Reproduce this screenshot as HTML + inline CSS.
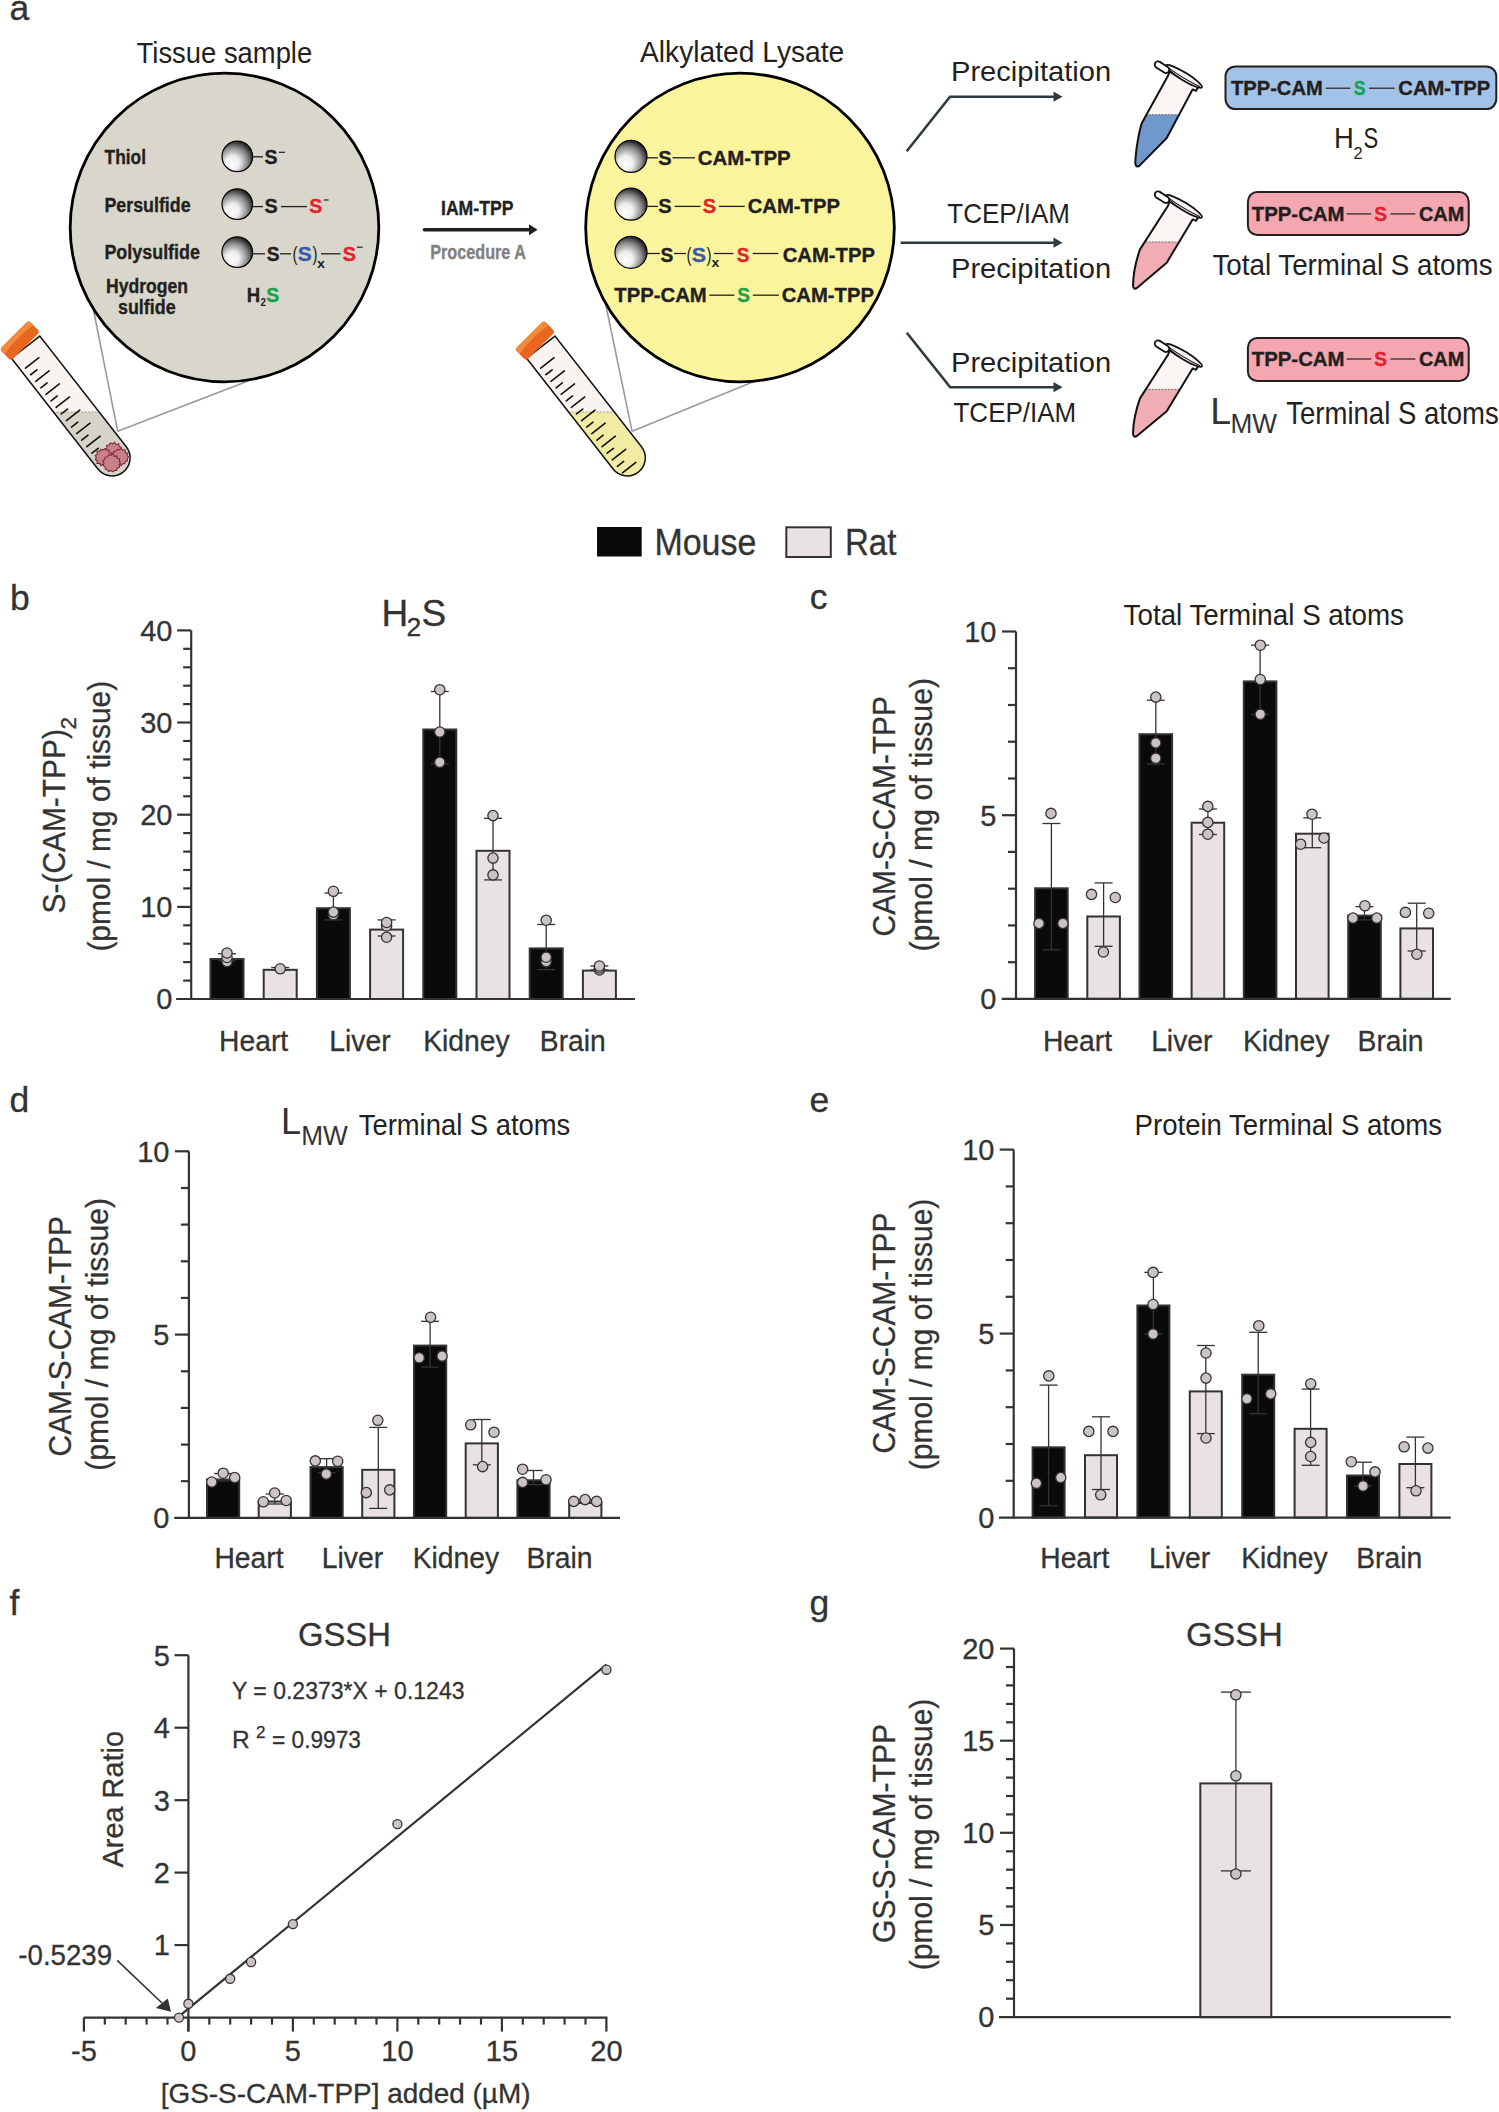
<!DOCTYPE html>
<html><head><meta charset="utf-8"><title>Figure</title>
<style>
html,body{margin:0;padding:0;background:#fff;}
body{width:1499px;height:2112px;overflow:hidden;}
svg{display:block;font-family:"Liberation Sans", sans-serif;}
</style></head><body>
<svg width="1499" height="2112" viewBox="0 0 1499 2112">
<rect x="0" y="0" width="1499" height="2112" fill="#ffffff"/>
<defs>
<radialGradient id="ball" cx="0.4" cy="0.62" r="0.66" fx="0.3" fy="0.78">
<stop offset="0" stop-color="#ffffff"/><stop offset="0.35" stop-color="#eeeeee"/><stop offset="0.7" stop-color="#8a8a8a"/><stop offset="1" stop-color="#111111"/>
</radialGradient>
</defs>
<text x="9.4" y="19.8" font-size="35.5" fill="#333333" stroke="#333333" stroke-width="0.3">a</text>
<text x="136.6" y="62.7" font-size="30.0" fill="#231f20" textLength="175.6" lengthAdjust="spacingAndGlyphs">Tissue sample</text>
<text x="640.0" y="61.7" font-size="30.0" fill="#231f20" textLength="204.3" lengthAdjust="spacingAndGlyphs">Alkylated Lysate</text>
<line x1="89.5" y1="290.0" x2="117.7" y2="431.3" stroke="#9a9a9a" stroke-width="1.60"/>
<line x1="117.7" y1="431.3" x2="250.0" y2="380.2" stroke="#9a9a9a" stroke-width="1.60"/>
<line x1="602.7" y1="290.0" x2="632.1" y2="431.3" stroke="#9a9a9a" stroke-width="1.60"/>
<line x1="632.1" y1="431.3" x2="760.0" y2="379.0" stroke="#9a9a9a" stroke-width="1.60"/>
<circle cx="224.5" cy="227.5" r="154.3" fill="#d9d7cb" stroke="#000" stroke-width="2.8"/>
<circle cx="740" cy="227.5" r="154.3" fill="#faf59d" stroke="#000" stroke-width="2.8"/>
<clipPath id="tb1"><path transform="translate(25.6 347.2) rotate(-38)" d="M -18,0 L -18,140.5 A 18,18 0 0 0 18,140.5 L 18,0 Z"/></clipPath>
<path transform="translate(25.6 347.2) rotate(-38)" d="M -18,0 L -18,140.5 A 18,18 0 0 0 18,140.5 L 18,0 Z" fill="#faf4f1"/>
<rect x="-34.4" y="412" width="200" height="100" fill="#d6d4c8" clip-path="url(#tb1)"/>
<line x1="-34.4" y1="412" x2="165.6" y2="412" stroke="#8a8a8a" stroke-width="0.8" stroke-dasharray="2 1.5" clip-path="url(#tb1)"/>
<g clip-path="url(#tb1)"><path transform="translate(25.6 347.2) rotate(-38)" d="M -13,16.5 L 4.0,16.5 M -13,24.8 L -5.0,24.8 M -13,33.1 L 4.0,33.1 M -13,41.4 L -5.0,41.4 M -13,49.7 L 4.0,49.7 M -13,58.0 L -5.0,58.0 M -13,66.3 L 4.0,66.3 M -13,74.6 L -5.0,74.6 M -13,82.9 L 4.0,82.9 M -13,91.2 L -5.0,91.2 M -13,99.5 L 4.0,99.5 M -13,107.8 L -5.0,107.8 M -13,116.1 L 4.0,116.1 M -13,124.4 L -5.0,124.4" stroke="#111" stroke-width="1.6" stroke-linecap="round" fill="none"/></g>
<path transform="translate(25.6 347.2) rotate(-38)" d="M -18,0 L -18,140.5 A 18,18 0 0 0 18,140.5 L 18,0 Z" fill="none" stroke="#111" stroke-width="1.5"/>
<g transform="translate(19.8 340.6) rotate(-45)"><rect x="-20.5" y="-8" width="41" height="16" rx="3" fill="#e8661f"/><path d="M -20.5,-4 Q -20.5,-8 -16.5,-8 L 16.5,-8 Q 20.5,-8 20.5,-4 L 20.5,-1.5 Q 0,-4.5 -20.5,-1.5 Z" fill="#f28b3b"/></g>
<g fill="#c8808b" stroke="#7d2b38" stroke-width="1.1" stroke-linejoin="miter"><polygon points="122.5,451.5 120.6,453.3 121.7,455.8 118.9,456.3 118.7,459.0 116.2,458.5 114.6,460.2 112.6,459.1 110.4,459.7 109.2,457.7 106.9,457.3 107.1,454.9 104.7,453.7 105.6,451.5 105.0,449.4 107.0,448.1 106.6,445.4 109.0,445.0 110.3,442.9 112.6,444.0 114.6,442.1 116.1,444.7 118.8,443.8 119.1,446.6 121.3,447.4 120.6,449.8"/><polygon points="112.5,457.5 111.2,459.3 111.5,461.5 109.4,462.5 108.9,464.9 106.4,464.3 104.9,466.4 103.0,464.5 100.8,465.5 99.7,463.4 97.0,463.5 97.3,460.9 95.3,459.6 96.3,457.5 95.2,455.4 97.4,454.1 97.0,451.4 99.5,451.3 100.7,449.4 102.9,450.1 104.9,448.6 106.5,450.3 109.0,450.0 109.2,452.7 112.0,453.2 110.7,455.8"/><polygon points="128.6,457.0 127.2,458.7 127.5,460.8 125.4,461.6 124.8,463.7 122.7,463.7 121.3,465.6 119.3,464.0 117.1,465.2 116.3,462.6 113.7,462.7 113.9,460.3 111.9,459.0 113.2,457.0 111.7,454.9 113.7,453.6 113.9,451.4 116.1,451.1 117.3,449.4 119.3,449.9 121.2,448.4 122.8,450.1 125.2,449.8 125.3,452.5 127.6,453.1 127.1,455.3"/><polygon points="120.5,463.2 119.1,465.0 119.6,467.3 117.3,468.0 116.8,470.4 114.6,470.5 112.9,471.9 110.9,470.5 108.6,471.6 107.3,469.7 105.2,469.0 105.1,466.7 102.9,465.4 103.9,463.2 102.7,461.0 104.8,459.5 105.1,457.3 107.5,457.0 108.6,454.8 110.8,455.4 112.9,453.8 114.4,456.4 116.8,455.9 117.3,458.3 119.7,459.1 119.2,461.4"/></g>
<clipPath id="tb2"><path transform="translate(540.8 347.2) rotate(-38)" d="M -18,0 L -18,140.5 A 18,18 0 0 0 18,140.5 L 18,0 Z"/></clipPath>
<path transform="translate(540.8 347.2) rotate(-38)" d="M -18,0 L -18,140.5 A 18,18 0 0 0 18,140.5 L 18,0 Z" fill="#faf4f1"/>
<rect x="480.8" y="412" width="200" height="100" fill="#f2eba3" clip-path="url(#tb2)"/>
<line x1="480.8" y1="412" x2="680.8" y2="412" stroke="#8a8a8a" stroke-width="0.8" stroke-dasharray="2 1.5" clip-path="url(#tb2)"/>
<g clip-path="url(#tb2)"><path transform="translate(540.8 347.2) rotate(-38)" d="M -13,16.5 L 4.0,16.5 M -13,24.8 L -5.0,24.8 M -13,33.1 L 4.0,33.1 M -13,41.4 L -5.0,41.4 M -13,49.7 L 4.0,49.7 M -13,58.0 L -5.0,58.0 M -13,66.3 L 4.0,66.3 M -13,74.6 L -5.0,74.6 M -13,82.9 L 4.0,82.9 M -13,91.2 L -5.0,91.2 M -13,99.5 L 4.0,99.5 M -13,107.8 L -5.0,107.8 M -13,116.1 L 4.0,116.1 M -13,124.4 L -5.0,124.4 M -13,132.7 L 4.0,132.7 M -13,141.0 L -5.0,141.0 M -13,149.3 L 4.0,149.3" stroke="#111" stroke-width="1.6" stroke-linecap="round" fill="none"/></g>
<path transform="translate(540.8 347.2) rotate(-38)" d="M -18,0 L -18,140.5 A 18,18 0 0 0 18,140.5 L 18,0 Z" fill="none" stroke="#111" stroke-width="1.5"/>
<g transform="translate(535.0 340.6) rotate(-45)"><rect x="-20.5" y="-8" width="41" height="16" rx="3" fill="#e8661f"/><path d="M -20.5,-4 Q -20.5,-8 -16.5,-8 L 16.5,-8 Q 20.5,-8 20.5,-4 L 20.5,-1.5 Q 0,-4.5 -20.5,-1.5 Z" fill="#f28b3b"/></g>
<circle cx="237.3" cy="156.4" r="15.3" fill="url(#ball)" stroke="#000" stroke-width="1.2"/>
<circle cx="237.3" cy="204.2" r="15.3" fill="url(#ball)" stroke="#000" stroke-width="1.2"/>
<circle cx="237.3" cy="252.2" r="15.3" fill="url(#ball)" stroke="#000" stroke-width="1.2"/>
<text x="104.6" y="164.0" font-size="20.0" fill="#231f20" font-weight="bold" textLength="41.4" lengthAdjust="spacingAndGlyphs" stroke="#231f20" stroke-width="0.35">Thiol</text>
<text x="104.4" y="212.0" font-size="20.0" fill="#231f20" font-weight="bold" textLength="86.2" lengthAdjust="spacingAndGlyphs" stroke="#231f20" stroke-width="0.35">Persulfide</text>
<text x="104.4" y="259.0" font-size="20.0" fill="#231f20" font-weight="bold" textLength="95.6" lengthAdjust="spacingAndGlyphs" stroke="#231f20" stroke-width="0.35">Polysulfide</text>
<text x="106.0" y="293.0" font-size="20.0" fill="#231f20" font-weight="bold" textLength="82.0" lengthAdjust="spacingAndGlyphs" stroke="#231f20" stroke-width="0.35">Hydrogen</text>
<text x="118.0" y="314.0" font-size="20.0" fill="#231f20" font-weight="bold" textLength="57.6" lengthAdjust="spacingAndGlyphs" stroke="#231f20" stroke-width="0.35">sulfide</text>
<line x1="252.5" y1="156.8" x2="263.0" y2="156.8" stroke="#231f20" stroke-width="1.30"/>
<text x="264.6" y="164.0" font-size="20.0" fill="#231f20" font-weight="bold" textLength="13.0" lengthAdjust="spacingAndGlyphs" stroke="#231f20" stroke-width="0.35">S</text>
<line x1="279.0" y1="152.3" x2="285.0" y2="152.3" stroke="#231f20" stroke-width="1.20"/>
<line x1="252.5" y1="206.6" x2="263.0" y2="206.6" stroke="#231f20" stroke-width="1.30"/>
<text x="264.6" y="213.0" font-size="20.0" fill="#231f20" font-weight="bold" textLength="13.2" lengthAdjust="spacingAndGlyphs" stroke="#231f20" stroke-width="0.35">S</text>
<line x1="281.0" y1="206.6" x2="307.0" y2="206.6" stroke="#231f20" stroke-width="1.30"/>
<text x="309.2" y="213.0" font-size="20.0" fill="#e3232b" font-weight="bold" textLength="13.0" lengthAdjust="spacingAndGlyphs" stroke="#e3232b" stroke-width="0.35">S</text>
<line x1="323.8" y1="200.0" x2="328.6" y2="200.0" stroke="#231f20" stroke-width="1.20"/>
<line x1="252.5" y1="253.8" x2="265.0" y2="253.8" stroke="#231f20" stroke-width="1.30"/>
<text x="266.8" y="261.0" font-size="20.0" fill="#231f20" font-weight="bold" textLength="12.8" lengthAdjust="spacingAndGlyphs" stroke="#231f20" stroke-width="0.35">S</text>
<line x1="280.0" y1="253.8" x2="291.0" y2="253.8" stroke="#231f20" stroke-width="1.30"/>
<text x="292.5" y="261.0" font-size="20.0" fill="#231f20" textLength="5.0" lengthAdjust="spacingAndGlyphs">(</text>
<text x="297.8" y="261.0" font-size="20.0" fill="#3a5ca8" font-weight="bold" textLength="14.0" lengthAdjust="spacingAndGlyphs" stroke="#3a5ca8" stroke-width="0.35">S</text>
<text x="312.6" y="261.0" font-size="20.0" fill="#231f20" textLength="5.0" lengthAdjust="spacingAndGlyphs">)</text>
<text x="317.0" y="267.8" font-size="13.0" fill="#231f20" font-weight="bold" textLength="8.0" lengthAdjust="spacingAndGlyphs">x</text>
<line x1="321.0" y1="253.8" x2="340.5" y2="253.8" stroke="#231f20" stroke-width="1.30"/>
<text x="342.8" y="261.0" font-size="20.0" fill="#e3232b" font-weight="bold" textLength="13.2" lengthAdjust="spacingAndGlyphs" stroke="#e3232b" stroke-width="0.35">S</text>
<line x1="357.0" y1="247.2" x2="362.6" y2="247.2" stroke="#231f20" stroke-width="1.20"/>
<text x="246.8" y="302.0" font-size="20.0" fill="#231f20" font-weight="bold" textLength="13.4" lengthAdjust="spacingAndGlyphs" stroke="#231f20" stroke-width="0.35">H</text>
<text x="260.4" y="306.4" font-size="10.0" fill="#231f20" font-weight="bold" textLength="5.4" lengthAdjust="spacingAndGlyphs">2</text>
<text x="266.2" y="302.0" font-size="20.0" fill="#17a14b" font-weight="bold" textLength="13.0" lengthAdjust="spacingAndGlyphs" stroke="#17a14b" stroke-width="0.35">S</text>
<text x="441.0" y="215.4" font-size="21.0" fill="#231f20" font-weight="bold" textLength="72.4" lengthAdjust="spacingAndGlyphs" stroke="#231f20" stroke-width="0.35">IAM-TPP</text>
<line x1="424.5" y1="229.7" x2="531.0" y2="229.7" stroke="#231f20" stroke-width="3.60" stroke-linecap="round"/>
<polygon points="529,224.2 537.6,229.7 529,235.2" fill="#231f20"/>
<text x="430.2" y="258.7" font-size="21.0" fill="#808080" font-weight="bold" textLength="95.8" lengthAdjust="spacingAndGlyphs" stroke="#808080" stroke-width="0.35">Procedure A</text>
<circle cx="631" cy="156.4" r="16" fill="url(#ball)" stroke="#000" stroke-width="1.2"/>
<circle cx="631" cy="204.2" r="16" fill="url(#ball)" stroke="#000" stroke-width="1.2"/>
<circle cx="631" cy="252.3" r="16" fill="url(#ball)" stroke="#000" stroke-width="1.2"/>
<line x1="646.0" y1="157.8" x2="658.0" y2="157.8" stroke="#231f20" stroke-width="1.30"/>
<text x="658.3" y="165.0" font-size="20.0" fill="#231f20" font-weight="bold" textLength="13.4" lengthAdjust="spacingAndGlyphs" stroke="#231f20" stroke-width="0.35">S</text>
<line x1="672.5" y1="157.8" x2="695.0" y2="157.8" stroke="#231f20" stroke-width="1.30"/>
<text x="697.7" y="165.0" font-size="20.0" fill="#231f20" font-weight="bold" textLength="93.0" lengthAdjust="spacingAndGlyphs" stroke="#231f20" stroke-width="0.35">CAM-TPP</text>
<line x1="646.0" y1="206.4" x2="658.0" y2="206.4" stroke="#231f20" stroke-width="1.30"/>
<text x="658.3" y="213.3" font-size="20.0" fill="#231f20" font-weight="bold" textLength="13.4" lengthAdjust="spacingAndGlyphs" stroke="#231f20" stroke-width="0.35">S</text>
<line x1="674.5" y1="206.4" x2="700.6" y2="206.4" stroke="#231f20" stroke-width="1.30"/>
<text x="702.7" y="213.3" font-size="20.0" fill="#e3232b" font-weight="bold" textLength="13.3" lengthAdjust="spacingAndGlyphs" stroke="#e3232b" stroke-width="0.35">S</text>
<line x1="719.0" y1="206.4" x2="744.7" y2="206.4" stroke="#231f20" stroke-width="1.30"/>
<text x="747.7" y="213.3" font-size="20.0" fill="#231f20" font-weight="bold" textLength="92.3" lengthAdjust="spacingAndGlyphs" stroke="#231f20" stroke-width="0.35">CAM-TPP</text>
<line x1="646.0" y1="253.5" x2="660.0" y2="253.5" stroke="#231f20" stroke-width="1.30"/>
<text x="660.5" y="261.7" font-size="20.0" fill="#231f20" font-weight="bold" textLength="12.8" lengthAdjust="spacingAndGlyphs" stroke="#231f20" stroke-width="0.35">S</text>
<line x1="674.0" y1="253.5" x2="686.0" y2="253.5" stroke="#231f20" stroke-width="1.30"/>
<text x="686.5" y="261.7" font-size="20.0" fill="#231f20" textLength="5.0" lengthAdjust="spacingAndGlyphs">(</text>
<text x="691.7" y="261.7" font-size="20.0" fill="#3a5ca8" font-weight="bold" textLength="14.3" lengthAdjust="spacingAndGlyphs" stroke="#3a5ca8" stroke-width="0.35">S</text>
<text x="706.5" y="261.7" font-size="20.0" fill="#231f20" textLength="5.0" lengthAdjust="spacingAndGlyphs">)</text>
<text x="711.5" y="267.0" font-size="13.0" fill="#231f20" font-weight="bold" textLength="7.8" lengthAdjust="spacingAndGlyphs">x</text>
<line x1="714.0" y1="253.5" x2="733.5" y2="253.5" stroke="#231f20" stroke-width="1.30"/>
<text x="736.7" y="261.7" font-size="20.0" fill="#e3232b" font-weight="bold" textLength="12.6" lengthAdjust="spacingAndGlyphs" stroke="#e3232b" stroke-width="0.35">S</text>
<line x1="752.7" y1="253.5" x2="778.3" y2="253.5" stroke="#231f20" stroke-width="1.30"/>
<text x="782.7" y="261.7" font-size="20.0" fill="#231f20" font-weight="bold" textLength="92.3" lengthAdjust="spacingAndGlyphs" stroke="#231f20" stroke-width="0.35">CAM-TPP</text>
<text x="614.3" y="301.7" font-size="20.0" fill="#231f20" font-weight="bold" textLength="92.4" lengthAdjust="spacingAndGlyphs" stroke="#231f20" stroke-width="0.35">TPP-CAM</text>
<line x1="709.3" y1="295.2" x2="734.4" y2="295.2" stroke="#231f20" stroke-width="1.30"/>
<text x="737.3" y="301.7" font-size="20.0" fill="#17a14b" font-weight="bold" textLength="12.7" lengthAdjust="spacingAndGlyphs" stroke="#17a14b" stroke-width="0.35">S</text>
<line x1="752.8" y1="295.2" x2="778.9" y2="295.2" stroke="#231f20" stroke-width="1.30"/>
<text x="781.7" y="301.7" font-size="20.0" fill="#231f20" font-weight="bold" textLength="92.3" lengthAdjust="spacingAndGlyphs" stroke="#231f20" stroke-width="0.35">CAM-TPP</text>
<polyline points="906.7,151.3 950,96.7 1056,96.7" fill="none" stroke="#2d3a40" stroke-width="2.6"/>
<polygon points="1053.5,91.6 1062.5,96.7 1053.5,101.8" fill="#2d3a40"/>
<line x1="900.6" y1="242.7" x2="1056" y2="242.7" stroke="#2d3a40" stroke-width="2.6"/>
<polygon points="1053.5,237.6 1062.5,242.7 1053.5,247.8" fill="#2d3a40"/>
<polyline points="906.8,332.7 950.2,387.2 1056,387.2" fill="none" stroke="#2d3a40" stroke-width="2.6"/>
<polygon points="1053.5,382.1 1062.5,387.2 1053.5,392.3" fill="#2d3a40"/>
<text x="951.0" y="80.6" font-size="28.5" fill="#231f20" textLength="160.2" lengthAdjust="spacingAndGlyphs">Precipitation</text>
<text x="947.3" y="223.3" font-size="28.5" fill="#231f20" textLength="122.7" lengthAdjust="spacingAndGlyphs">TCEP/IAM</text>
<text x="951.0" y="277.8" font-size="28.5" fill="#231f20" textLength="160.2" lengthAdjust="spacingAndGlyphs">Precipitation</text>
<text x="951.0" y="371.9" font-size="28.5" fill="#231f20" textLength="160.2" lengthAdjust="spacingAndGlyphs">Precipitation</text>
<text x="953.5" y="422.3" font-size="28.5" fill="#231f20" textLength="122.7" lengthAdjust="spacingAndGlyphs">TCEP/IAM</text>
<clipPath id="ep1"><path transform="translate(1120.0 50.0)" d="M 48,25.8 L 22.0,72.7 C 18.8,81.7 15.6,101.6 15.3,113.1 C 15.3,116.8 17.7,117.2 19.8,115.4 L 46.7,88.0 L 72,40.5 L 72.8,39.4 L 76,40.8 L 78.2,37.2 L 49.5,21.5 Z"/></clipPath>
<path transform="translate(1120.0 50.0)" d="M 48,25.8 L 22.0,72.7 C 18.8,81.7 15.6,101.6 15.3,113.1 C 15.3,116.8 17.7,117.2 19.8,115.4 L 46.7,88.0 L 72,40.5 L 72.8,39.4 L 76,40.8 L 78.2,37.2 L 49.5,21.5 Z" fill="#fbf6f3"/>
<rect x="1120.0" y="114.7" width="100" height="80" fill="#7098cc" clip-path="url(#ep1)"/>
<line x1="1120.0" y1="114.7" x2="1220.0" y2="114.7" stroke="#555" stroke-width="0.8" stroke-dasharray="2 1.2" clip-path="url(#ep1)"/>
<path transform="translate(1120.0 50.0)" d="M 48,25.8 L 22.0,72.7 C 18.8,81.7 15.6,101.6 15.3,113.1 C 15.3,116.8 17.7,117.2 19.8,115.4 L 46.7,88.0 L 72,40.5 L 72.8,39.4 L 76,40.8 L 78.2,37.2 L 49.5,21.5 Z" fill="none" stroke="#111" stroke-width="2" stroke-linejoin="round"/>
<g transform="translate(1120.0 50.0)"><g transform="translate(64 26.4) rotate(31.5)"><ellipse cx="0" cy="0" rx="21" ry="3.9" fill="#fbf6f3" stroke="#111" stroke-width="1.8"/><path d="M -18.5,0.8 Q 0,2.6 19,0.4" fill="none" stroke="#111" stroke-width="1.1"/></g><g transform="translate(42 17.2) rotate(33)"><rect x="-8" y="-3.3" width="16" height="6.6" rx="3.3" fill="#fff" stroke="#111" stroke-width="1.8"/></g></g>
<clipPath id="ep2"><path transform="translate(1120.0 180.0)" d="M 48,25.8 L 20.0,69.4 C 16.8,78.4 13.3,93.8 13.0,105.3 C 13.0,109.0 15.4,109.4 17.5,107.6 L 46.7,82.7 L 72,40.5 L 72.8,39.4 L 76,40.8 L 78.2,37.2 L 49.5,21.5 Z"/></clipPath>
<path transform="translate(1120.0 180.0)" d="M 48,25.8 L 20.0,69.4 C 16.8,78.4 13.3,93.8 13.0,105.3 C 13.0,109.0 15.4,109.4 17.5,107.6 L 46.7,82.7 L 72,40.5 L 72.8,39.4 L 76,40.8 L 78.2,37.2 L 49.5,21.5 Z" fill="#fbf6f3"/>
<rect x="1120.0" y="242.0" width="100" height="80" fill="#f0adb3" clip-path="url(#ep2)"/>
<line x1="1120.0" y1="242.0" x2="1220.0" y2="242.0" stroke="#555" stroke-width="0.8" stroke-dasharray="2 1.2" clip-path="url(#ep2)"/>
<path transform="translate(1120.0 180.0)" d="M 48,25.8 L 20.0,69.4 C 16.8,78.4 13.3,93.8 13.0,105.3 C 13.0,109.0 15.4,109.4 17.5,107.6 L 46.7,82.7 L 72,40.5 L 72.8,39.4 L 76,40.8 L 78.2,37.2 L 49.5,21.5 Z" fill="none" stroke="#111" stroke-width="2" stroke-linejoin="round"/>
<g transform="translate(1120.0 180.0)"><g transform="translate(64 26.4) rotate(31.5)"><ellipse cx="0" cy="0" rx="21" ry="3.9" fill="#fbf6f3" stroke="#111" stroke-width="1.8"/><path d="M -18.5,0.8 Q 0,2.6 19,0.4" fill="none" stroke="#111" stroke-width="1.1"/></g><g transform="translate(42 17.2) rotate(33)"><rect x="-8" y="-3.3" width="16" height="6.6" rx="3.3" fill="#fff" stroke="#111" stroke-width="1.8"/></g></g>
<clipPath id="ep3"><path transform="translate(1120.0 329.0)" d="M 48,25.8 L 20.0,69.4 C 16.8,78.4 13.3,92.8 13.0,104.3 C 13.0,108.0 15.4,108.4 17.5,106.6 L 46.7,82.2 L 72,40.5 L 72.8,39.4 L 76,40.8 L 78.2,37.2 L 49.5,21.5 Z"/></clipPath>
<path transform="translate(1120.0 329.0)" d="M 48,25.8 L 20.0,69.4 C 16.8,78.4 13.3,92.8 13.0,104.3 C 13.0,108.0 15.4,108.4 17.5,106.6 L 46.7,82.2 L 72,40.5 L 72.8,39.4 L 76,40.8 L 78.2,37.2 L 49.5,21.5 Z" fill="#fbf6f3"/>
<rect x="1120.0" y="389.4" width="100" height="80" fill="#f0adb3" clip-path="url(#ep3)"/>
<line x1="1120.0" y1="389.4" x2="1220.0" y2="389.4" stroke="#555" stroke-width="0.8" stroke-dasharray="2 1.2" clip-path="url(#ep3)"/>
<path transform="translate(1120.0 329.0)" d="M 48,25.8 L 20.0,69.4 C 16.8,78.4 13.3,92.8 13.0,104.3 C 13.0,108.0 15.4,108.4 17.5,106.6 L 46.7,82.2 L 72,40.5 L 72.8,39.4 L 76,40.8 L 78.2,37.2 L 49.5,21.5 Z" fill="none" stroke="#111" stroke-width="2" stroke-linejoin="round"/>
<g transform="translate(1120.0 329.0)"><g transform="translate(64 26.4) rotate(31.5)"><ellipse cx="0" cy="0" rx="21" ry="3.9" fill="#fbf6f3" stroke="#111" stroke-width="1.8"/><path d="M -18.5,0.8 Q 0,2.6 19,0.4" fill="none" stroke="#111" stroke-width="1.1"/></g><g transform="translate(42 17.2) rotate(33)"><rect x="-8" y="-3.3" width="16" height="6.6" rx="3.3" fill="#fff" stroke="#111" stroke-width="1.8"/></g></g>
<rect x="1225.5" y="66.4" width="270.8" height="42.7" rx="10" fill="#a2c2e8" stroke="#231f20" stroke-width="2"/>
<text x="1231.0" y="94.8" font-size="20.0" fill="#231f20" font-weight="bold" textLength="91.7" lengthAdjust="spacingAndGlyphs" stroke="#231f20" stroke-width="0.35">TPP-CAM</text>
<line x1="1325.7" y1="88.2" x2="1350.3" y2="88.2" stroke="#231f20" stroke-width="1.20"/>
<text x="1353.8" y="94.8" font-size="20.0" fill="#17a14b" font-weight="bold" textLength="11.8" lengthAdjust="spacingAndGlyphs" stroke="#17a14b" stroke-width="0.35">S</text>
<line x1="1369.0" y1="88.2" x2="1394.7" y2="88.2" stroke="#231f20" stroke-width="1.20"/>
<text x="1398.3" y="94.8" font-size="20.0" fill="#231f20" font-weight="bold" textLength="92.0" lengthAdjust="spacingAndGlyphs" stroke="#231f20" stroke-width="0.35">CAM-TPP</text>
<text x="1334.0" y="148.3" font-size="29.5" fill="#231f20" textLength="19.8" lengthAdjust="spacingAndGlyphs">H</text>
<text x="1353.5" y="158.8" font-size="16.4" fill="#231f20">2</text>
<text x="1363.4" y="148.4" font-size="29.5" fill="#231f20" textLength="14.7" lengthAdjust="spacingAndGlyphs">S</text>
<rect x="1247.9" y="191.9" width="220.8" height="43.2" rx="9.5" fill="#f4a7b1" stroke="#231f20" stroke-width="2"/>
<text x="1251.7" y="220.8" font-size="20.0" fill="#231f20" font-weight="bold" textLength="92.9" lengthAdjust="spacingAndGlyphs" stroke="#231f20" stroke-width="0.35">TPP-CAM</text>
<line x1="1346.6" y1="213.9" x2="1371.2" y2="213.9" stroke="#231f20" stroke-width="1.20"/>
<text x="1374.3" y="220.8" font-size="20.0" fill="#e3232b" font-weight="bold" textLength="12.8" lengthAdjust="spacingAndGlyphs" stroke="#e3232b" stroke-width="0.35">S</text>
<line x1="1390.5" y1="213.9" x2="1415.4" y2="213.9" stroke="#231f20" stroke-width="1.20"/>
<text x="1418.9" y="220.8" font-size="20.0" fill="#231f20" font-weight="bold" textLength="45.4" lengthAdjust="spacingAndGlyphs" stroke="#231f20" stroke-width="0.35">CAM</text>
<rect x="1247.9" y="337.9" width="220.8" height="43.2" rx="9.5" fill="#f4a7b1" stroke="#231f20" stroke-width="2"/>
<text x="1251.7" y="365.9" font-size="20.0" fill="#231f20" font-weight="bold" textLength="92.9" lengthAdjust="spacingAndGlyphs" stroke="#231f20" stroke-width="0.35">TPP-CAM</text>
<line x1="1346.6" y1="359.0" x2="1371.2" y2="359.0" stroke="#231f20" stroke-width="1.20"/>
<text x="1374.3" y="365.9" font-size="20.0" fill="#e3232b" font-weight="bold" textLength="12.8" lengthAdjust="spacingAndGlyphs" stroke="#e3232b" stroke-width="0.35">S</text>
<line x1="1390.5" y1="359.0" x2="1415.4" y2="359.0" stroke="#231f20" stroke-width="1.20"/>
<text x="1418.9" y="365.9" font-size="20.0" fill="#231f20" font-weight="bold" textLength="45.4" lengthAdjust="spacingAndGlyphs" stroke="#231f20" stroke-width="0.35">CAM</text>
<text x="1212.5" y="274.8" font-size="30.0" fill="#231f20" textLength="280.0" lengthAdjust="spacingAndGlyphs">Total Terminal S atoms</text>
<text x="1210.2" y="423.7" font-size="37.5" fill="#333333" stroke-width="0">L</text>
<text x="1230.5" y="432.7" font-size="27.5" fill="#333333" textLength="46.6" lengthAdjust="spacingAndGlyphs" stroke-width="0">MW</text>
<text x="1286.3" y="423.7" font-size="31.5" fill="#231f20" textLength="212.5" lengthAdjust="spacingAndGlyphs">Terminal S atoms</text>
<rect x="597" y="527" width="44.7" height="29.5" fill="#0a0a0a"/>
<text x="654.4" y="554.7" font-size="36.0" fill="#333333" textLength="102.0" lengthAdjust="spacingAndGlyphs" stroke="#333333" stroke-width="0.3">Mouse</text>
<rect x="786.3" y="527.3" width="44.5" height="29.7" fill="#e8e2e2" stroke="#333333" stroke-width="2"/>
<text x="845.0" y="554.7" font-size="36.0" fill="#333333" textLength="51.4" lengthAdjust="spacingAndGlyphs" stroke="#333333" stroke-width="0.3">Rat</text>
<text x="10.0" y="609.6" font-size="35.5" fill="#333333" stroke="#333333" stroke-width="0.3">b</text>
<text x="809.8" y="609.4" font-size="35.5" fill="#333333" stroke="#333333" stroke-width="0.3">c</text>
<text x="9.6" y="1111.6" font-size="35.5" fill="#333333" stroke="#333333" stroke-width="0.3">d</text>
<text x="809.6" y="1111.6" font-size="35.5" fill="#333333" stroke="#333333" stroke-width="0.3">e</text>
<text x="9.6" y="1614.8" font-size="35.5" fill="#333333" stroke="#333333" stroke-width="0.3">f</text>
<text x="809.6" y="1614.8" font-size="35.5" fill="#333333" stroke="#333333" stroke-width="0.3">g</text>
<line x1="191.2" y1="630.4" x2="191.2" y2="1000.0" stroke="#333333" stroke-width="2.20"/>
<line x1="183.2" y1="980.6" x2="191.2" y2="980.6" stroke="#333333" stroke-width="2.20"/>
<line x1="183.2" y1="962.1" x2="191.2" y2="962.1" stroke="#333333" stroke-width="2.20"/>
<line x1="183.2" y1="943.7" x2="191.2" y2="943.7" stroke="#333333" stroke-width="2.20"/>
<line x1="183.2" y1="925.3" x2="191.2" y2="925.3" stroke="#333333" stroke-width="2.20"/>
<line x1="177.2" y1="906.9" x2="191.2" y2="906.9" stroke="#333333" stroke-width="2.20"/>
<line x1="183.2" y1="888.4" x2="191.2" y2="888.4" stroke="#333333" stroke-width="2.20"/>
<line x1="183.2" y1="870.0" x2="191.2" y2="870.0" stroke="#333333" stroke-width="2.20"/>
<line x1="183.2" y1="851.6" x2="191.2" y2="851.6" stroke="#333333" stroke-width="2.20"/>
<line x1="183.2" y1="833.1" x2="191.2" y2="833.1" stroke="#333333" stroke-width="2.20"/>
<line x1="177.2" y1="814.7" x2="191.2" y2="814.7" stroke="#333333" stroke-width="2.20"/>
<line x1="183.2" y1="796.3" x2="191.2" y2="796.3" stroke="#333333" stroke-width="2.20"/>
<line x1="183.2" y1="777.8" x2="191.2" y2="777.8" stroke="#333333" stroke-width="2.20"/>
<line x1="183.2" y1="759.4" x2="191.2" y2="759.4" stroke="#333333" stroke-width="2.20"/>
<line x1="183.2" y1="741.0" x2="191.2" y2="741.0" stroke="#333333" stroke-width="2.20"/>
<line x1="177.2" y1="722.5" x2="191.2" y2="722.5" stroke="#333333" stroke-width="2.20"/>
<line x1="183.2" y1="704.1" x2="191.2" y2="704.1" stroke="#333333" stroke-width="2.20"/>
<line x1="183.2" y1="685.7" x2="191.2" y2="685.7" stroke="#333333" stroke-width="2.20"/>
<line x1="183.2" y1="667.3" x2="191.2" y2="667.3" stroke="#333333" stroke-width="2.20"/>
<line x1="183.2" y1="648.8" x2="191.2" y2="648.8" stroke="#333333" stroke-width="2.20"/>
<line x1="177.2" y1="630.4" x2="191.2" y2="630.4" stroke="#333333" stroke-width="2.20"/>
<text x="172.5" y="1009.3" font-size="29.0" fill="#333333" text-anchor="end" stroke="#333333" stroke-width="0.3">0</text>
<text x="172.5" y="917.1" font-size="29.0" fill="#333333" text-anchor="end" stroke="#333333" stroke-width="0.3">10</text>
<text x="172.5" y="825.0" font-size="29.0" fill="#333333" text-anchor="end" stroke="#333333" stroke-width="0.3">20</text>
<text x="172.5" y="732.8" font-size="29.0" fill="#333333" text-anchor="end" stroke="#333333" stroke-width="0.3">30</text>
<text x="172.5" y="640.7" font-size="29.0" fill="#333333" text-anchor="end" stroke="#333333" stroke-width="0.3">40</text>
<rect x="210.5" y="959.0" width="33.0" height="40.0" fill="#0a0a0a" stroke="#333333" stroke-width="2.0"/>
<rect x="263.7" y="969.8" width="33.0" height="29.2" fill="#e8e2e2" stroke="#333333" stroke-width="2.0"/>
<rect x="316.9" y="908.2" width="33.0" height="90.8" fill="#0a0a0a" stroke="#333333" stroke-width="2.0"/>
<rect x="370.1" y="929.6" width="33.0" height="69.4" fill="#e8e2e2" stroke="#333333" stroke-width="2.0"/>
<rect x="423.3" y="729.5" width="33.0" height="269.5" fill="#0a0a0a" stroke="#333333" stroke-width="2.0"/>
<rect x="476.5" y="850.8" width="33.0" height="148.2" fill="#e8e2e2" stroke="#333333" stroke-width="2.0"/>
<rect x="529.7" y="948.4" width="33.0" height="50.6" fill="#0a0a0a" stroke="#333333" stroke-width="2.0"/>
<rect x="582.9" y="970.6" width="33.0" height="28.4" fill="#e8e2e2" stroke="#333333" stroke-width="2.0"/>
<line x1="227.0" y1="953.7" x2="227.0" y2="960.7" stroke="#333333" stroke-width="1.30"/>
<line x1="218.0" y1="953.7" x2="236.0" y2="953.7" stroke="#333333" stroke-width="1.30"/>
<line x1="218.0" y1="960.7" x2="236.0" y2="960.7" stroke="#333333" stroke-width="1.30"/>
<line x1="280.2" y1="967.5" x2="280.2" y2="970.0" stroke="#333333" stroke-width="1.30"/>
<line x1="271.2" y1="967.5" x2="289.2" y2="967.5" stroke="#333333" stroke-width="1.30"/>
<line x1="271.2" y1="970.0" x2="289.2" y2="970.0" stroke="#333333" stroke-width="1.30"/>
<line x1="333.4" y1="893.0" x2="333.4" y2="919.9" stroke="#333333" stroke-width="1.30"/>
<line x1="324.4" y1="893.0" x2="342.4" y2="893.0" stroke="#333333" stroke-width="1.30"/>
<line x1="324.4" y1="919.9" x2="342.4" y2="919.9" stroke="#333333" stroke-width="1.30"/>
<line x1="386.6" y1="919.9" x2="386.6" y2="936.0" stroke="#333333" stroke-width="1.30"/>
<line x1="377.6" y1="919.9" x2="395.6" y2="919.9" stroke="#333333" stroke-width="1.30"/>
<line x1="377.6" y1="936.0" x2="395.6" y2="936.0" stroke="#333333" stroke-width="1.30"/>
<line x1="439.8" y1="691.5" x2="439.8" y2="763.8" stroke="#333333" stroke-width="1.30"/>
<line x1="430.8" y1="691.5" x2="448.8" y2="691.5" stroke="#333333" stroke-width="1.30"/>
<line x1="430.8" y1="763.8" x2="448.8" y2="763.8" stroke="#333333" stroke-width="1.30"/>
<line x1="493.0" y1="818.3" x2="493.0" y2="879.9" stroke="#333333" stroke-width="1.30"/>
<line x1="484.0" y1="818.3" x2="502.0" y2="818.3" stroke="#333333" stroke-width="1.30"/>
<line x1="484.0" y1="879.9" x2="502.0" y2="879.9" stroke="#333333" stroke-width="1.30"/>
<line x1="546.2" y1="924.5" x2="546.2" y2="969.6" stroke="#333333" stroke-width="1.30"/>
<line x1="537.2" y1="924.5" x2="555.2" y2="924.5" stroke="#333333" stroke-width="1.30"/>
<line x1="537.2" y1="969.6" x2="555.2" y2="969.6" stroke="#333333" stroke-width="1.30"/>
<line x1="599.4" y1="966.0" x2="599.4" y2="970.0" stroke="#333333" stroke-width="1.30"/>
<line x1="590.4" y1="966.0" x2="608.4" y2="966.0" stroke="#333333" stroke-width="1.30"/>
<line x1="590.4" y1="970.0" x2="608.4" y2="970.0" stroke="#333333" stroke-width="1.30"/>
<circle cx="227.0" cy="961.5" r="5.15" fill="#ccc4c3" stroke="#333333" stroke-width="1.30"/>
<circle cx="227.0" cy="957.5" r="5.15" fill="#ccc4c3" stroke="#333333" stroke-width="1.30"/>
<circle cx="227.0" cy="953.0" r="5.15" fill="#ccc4c3" stroke="#333333" stroke-width="1.30"/>
<circle cx="280.2" cy="968.8" r="5.15" fill="#ccc4c3" stroke="#333333" stroke-width="1.30"/>
<circle cx="333.4" cy="914.7" r="5.15" fill="#ccc4c3" stroke="#333333" stroke-width="1.30"/>
<circle cx="333.4" cy="912.1" r="5.15" fill="#ccc4c3" stroke="#333333" stroke-width="1.30"/>
<circle cx="333.4" cy="891.3" r="5.15" fill="#ccc4c3" stroke="#333333" stroke-width="1.30"/>
<circle cx="386.6" cy="937.2" r="5.15" fill="#ccc4c3" stroke="#333333" stroke-width="1.30"/>
<circle cx="386.6" cy="926.0" r="5.15" fill="#ccc4c3" stroke="#333333" stroke-width="1.30"/>
<circle cx="386.6" cy="922.5" r="5.15" fill="#ccc4c3" stroke="#333333" stroke-width="1.30"/>
<circle cx="439.8" cy="762.3" r="5.15" fill="#ccc4c3" stroke="#333333" stroke-width="1.30"/>
<circle cx="439.8" cy="732.0" r="5.15" fill="#ccc4c3" stroke="#333333" stroke-width="1.30"/>
<circle cx="439.8" cy="689.7" r="5.15" fill="#ccc4c3" stroke="#333333" stroke-width="1.30"/>
<circle cx="493.0" cy="874.9" r="5.15" fill="#ccc4c3" stroke="#333333" stroke-width="1.30"/>
<circle cx="493.0" cy="858.1" r="5.15" fill="#ccc4c3" stroke="#333333" stroke-width="1.30"/>
<circle cx="493.0" cy="815.6" r="5.15" fill="#ccc4c3" stroke="#333333" stroke-width="1.30"/>
<circle cx="546.2" cy="961.6" r="5.15" fill="#ccc4c3" stroke="#333333" stroke-width="1.30"/>
<circle cx="546.2" cy="957.2" r="5.15" fill="#ccc4c3" stroke="#333333" stroke-width="1.30"/>
<circle cx="546.2" cy="920.2" r="5.15" fill="#ccc4c3" stroke="#333333" stroke-width="1.30"/>
<circle cx="599.4" cy="970.0" r="5.15" fill="#ccc4c3" stroke="#333333" stroke-width="1.30"/>
<circle cx="599.4" cy="968.0" r="5.15" fill="#ccc4c3" stroke="#333333" stroke-width="1.30"/>
<circle cx="599.4" cy="966.0" r="5.15" fill="#ccc4c3" stroke="#333333" stroke-width="1.30"/>
<line x1="176.1" y1="999.0" x2="635.0" y2="999.0" stroke="#333333" stroke-width="2.20"/>
<text x="253.6" y="1051.4" font-size="29.0" fill="#333333" text-anchor="middle" textLength="69.1" lengthAdjust="spacingAndGlyphs" stroke="#333333" stroke-width="0.3">Heart</text>
<text x="360.0" y="1051.4" font-size="29.0" fill="#333333" text-anchor="middle" textLength="61.3" lengthAdjust="spacingAndGlyphs" stroke="#333333" stroke-width="0.3">Liver</text>
<text x="466.4" y="1051.4" font-size="29.0" fill="#333333" text-anchor="middle" textLength="86.5" lengthAdjust="spacingAndGlyphs" stroke="#333333" stroke-width="0.3">Kidney</text>
<text x="572.8" y="1051.4" font-size="29.0" fill="#333333" text-anchor="middle" textLength="66.0" lengthAdjust="spacingAndGlyphs" stroke="#333333" stroke-width="0.3">Brain</text>
<text x="381.6" y="625.8" font-size="37.0" fill="#333333" stroke="#333333" stroke-width="0.3">H</text>
<text x="406.5" y="635.9" font-size="26.5" fill="#333333" stroke="#333333" stroke-width="0.3">2</text>
<text x="421.6" y="625.8" font-size="37.0" fill="#333333" stroke="#333333" stroke-width="0.3">S</text>
<text transform="translate(65.0 913.4) rotate(-90)" x="0" y="0" font-size="31.5" fill="#333333" stroke="#333333" stroke-width="0.3" textLength="184.3" lengthAdjust="spacingAndGlyphs">S-(CAM-TPP)</text>
<text transform="translate(76.2 729.6) rotate(-90)" x="0" y="0" font-size="22.5" fill="#333333" stroke="#333333" stroke-width="0.3">2</text>
<text transform="translate(109.8 951.6) rotate(-90)" x="0" y="0" font-size="31.5" fill="#333333" stroke="#333333" stroke-width="0.3" textLength="270.8" lengthAdjust="spacingAndGlyphs">(pmol / mg of tissue)</text>
<line x1="1016.0" y1="631.5" x2="1016.0" y2="999.9" stroke="#333333" stroke-width="2.20"/>
<line x1="1008.0" y1="962.2" x2="1016.0" y2="962.2" stroke="#333333" stroke-width="2.20"/>
<line x1="1008.0" y1="925.4" x2="1016.0" y2="925.4" stroke="#333333" stroke-width="2.20"/>
<line x1="1008.0" y1="888.7" x2="1016.0" y2="888.7" stroke="#333333" stroke-width="2.20"/>
<line x1="1008.0" y1="851.9" x2="1016.0" y2="851.9" stroke="#333333" stroke-width="2.20"/>
<line x1="1002.0" y1="815.2" x2="1016.0" y2="815.2" stroke="#333333" stroke-width="2.20"/>
<line x1="1008.0" y1="778.5" x2="1016.0" y2="778.5" stroke="#333333" stroke-width="2.20"/>
<line x1="1008.0" y1="741.7" x2="1016.0" y2="741.7" stroke="#333333" stroke-width="2.20"/>
<line x1="1008.0" y1="705.0" x2="1016.0" y2="705.0" stroke="#333333" stroke-width="2.20"/>
<line x1="1008.0" y1="668.2" x2="1016.0" y2="668.2" stroke="#333333" stroke-width="2.20"/>
<line x1="1002.0" y1="631.5" x2="1016.0" y2="631.5" stroke="#333333" stroke-width="2.20"/>
<text x="996.5" y="1009.2" font-size="29.0" fill="#333333" text-anchor="end" stroke="#333333" stroke-width="0.3">0</text>
<text x="996.5" y="825.5" font-size="29.0" fill="#333333" text-anchor="end" stroke="#333333" stroke-width="0.3">5</text>
<text x="996.5" y="641.8" font-size="29.0" fill="#333333" text-anchor="end" stroke="#333333" stroke-width="0.3">10</text>
<rect x="1035.1" y="888.3" width="32.6" height="110.6" fill="#0a0a0a" stroke="#333333" stroke-width="2.0"/>
<rect x="1087.3" y="916.5" width="32.6" height="82.4" fill="#e8e2e2" stroke="#333333" stroke-width="2.0"/>
<rect x="1139.5" y="734.2" width="32.6" height="264.7" fill="#0a0a0a" stroke="#333333" stroke-width="2.0"/>
<rect x="1191.6" y="822.7" width="32.6" height="176.2" fill="#e8e2e2" stroke="#333333" stroke-width="2.0"/>
<rect x="1243.8" y="681.4" width="32.6" height="317.5" fill="#0a0a0a" stroke="#333333" stroke-width="2.0"/>
<rect x="1296.0" y="833.7" width="32.6" height="165.2" fill="#e8e2e2" stroke="#333333" stroke-width="2.0"/>
<rect x="1348.2" y="915.6" width="32.6" height="83.3" fill="#0a0a0a" stroke="#333333" stroke-width="2.0"/>
<rect x="1400.4" y="928.4" width="32.6" height="70.5" fill="#e8e2e2" stroke="#333333" stroke-width="2.0"/>
<line x1="1051.4" y1="823.5" x2="1051.4" y2="949.8" stroke="#333333" stroke-width="1.30"/>
<line x1="1042.4" y1="823.5" x2="1060.4" y2="823.5" stroke="#333333" stroke-width="1.30"/>
<line x1="1042.4" y1="949.8" x2="1060.4" y2="949.8" stroke="#333333" stroke-width="1.30"/>
<line x1="1103.6" y1="882.9" x2="1103.6" y2="946.3" stroke="#333333" stroke-width="1.30"/>
<line x1="1094.6" y1="882.9" x2="1112.6" y2="882.9" stroke="#333333" stroke-width="1.30"/>
<line x1="1094.6" y1="946.3" x2="1112.6" y2="946.3" stroke="#333333" stroke-width="1.30"/>
<line x1="1155.8" y1="700.2" x2="1155.8" y2="764.0" stroke="#333333" stroke-width="1.30"/>
<line x1="1146.8" y1="700.2" x2="1164.8" y2="700.2" stroke="#333333" stroke-width="1.30"/>
<line x1="1146.8" y1="764.0" x2="1164.8" y2="764.0" stroke="#333333" stroke-width="1.30"/>
<line x1="1207.9" y1="809.0" x2="1207.9" y2="834.5" stroke="#333333" stroke-width="1.30"/>
<line x1="1198.9" y1="809.0" x2="1216.9" y2="809.0" stroke="#333333" stroke-width="1.30"/>
<line x1="1198.9" y1="834.5" x2="1216.9" y2="834.5" stroke="#333333" stroke-width="1.30"/>
<line x1="1260.1" y1="645.2" x2="1260.1" y2="714.3" stroke="#333333" stroke-width="1.30"/>
<line x1="1251.1" y1="645.2" x2="1269.1" y2="645.2" stroke="#333333" stroke-width="1.30"/>
<line x1="1251.1" y1="714.3" x2="1269.1" y2="714.3" stroke="#333333" stroke-width="1.30"/>
<line x1="1312.3" y1="817.8" x2="1312.3" y2="847.7" stroke="#333333" stroke-width="1.30"/>
<line x1="1303.3" y1="817.8" x2="1321.3" y2="817.8" stroke="#333333" stroke-width="1.30"/>
<line x1="1303.3" y1="847.7" x2="1321.3" y2="847.7" stroke="#333333" stroke-width="1.30"/>
<line x1="1364.5" y1="906.7" x2="1364.5" y2="919.9" stroke="#333333" stroke-width="1.30"/>
<line x1="1355.5" y1="906.7" x2="1373.5" y2="906.7" stroke="#333333" stroke-width="1.30"/>
<line x1="1355.5" y1="919.9" x2="1373.5" y2="919.9" stroke="#333333" stroke-width="1.30"/>
<line x1="1416.7" y1="903.2" x2="1416.7" y2="951.0" stroke="#333333" stroke-width="1.30"/>
<line x1="1407.7" y1="903.2" x2="1425.7" y2="903.2" stroke="#333333" stroke-width="1.30"/>
<line x1="1407.7" y1="951.0" x2="1425.7" y2="951.0" stroke="#333333" stroke-width="1.30"/>
<circle cx="1051.0" cy="813.4" r="5.15" fill="#ccc4c3" stroke="#333333" stroke-width="1.30"/>
<circle cx="1039.0" cy="923.4" r="5.15" fill="#ccc4c3" stroke="#333333" stroke-width="1.30"/>
<circle cx="1062.9" cy="923.4" r="5.15" fill="#ccc4c3" stroke="#333333" stroke-width="1.30"/>
<circle cx="1091.5" cy="894.4" r="5.15" fill="#ccc4c3" stroke="#333333" stroke-width="1.30"/>
<circle cx="1115.3" cy="897.5" r="5.15" fill="#ccc4c3" stroke="#333333" stroke-width="1.30"/>
<circle cx="1103.4" cy="952.0" r="5.15" fill="#ccc4c3" stroke="#333333" stroke-width="1.30"/>
<circle cx="1155.8" cy="697.1" r="5.15" fill="#ccc4c3" stroke="#333333" stroke-width="1.30"/>
<circle cx="1155.8" cy="742.9" r="5.15" fill="#ccc4c3" stroke="#333333" stroke-width="1.30"/>
<circle cx="1155.8" cy="758.3" r="5.15" fill="#ccc4c3" stroke="#333333" stroke-width="1.30"/>
<circle cx="1207.8" cy="806.4" r="5.15" fill="#ccc4c3" stroke="#333333" stroke-width="1.30"/>
<circle cx="1207.8" cy="822.4" r="5.15" fill="#ccc4c3" stroke="#333333" stroke-width="1.30"/>
<circle cx="1207.8" cy="834.2" r="5.15" fill="#ccc4c3" stroke="#333333" stroke-width="1.30"/>
<circle cx="1260.3" cy="645.2" r="5.15" fill="#ccc4c3" stroke="#333333" stroke-width="1.30"/>
<circle cx="1260.3" cy="679.5" r="5.15" fill="#ccc4c3" stroke="#333333" stroke-width="1.30"/>
<circle cx="1260.3" cy="714.3" r="5.15" fill="#ccc4c3" stroke="#333333" stroke-width="1.30"/>
<circle cx="1312.0" cy="814.2" r="5.15" fill="#ccc4c3" stroke="#333333" stroke-width="1.30"/>
<circle cx="1300.6" cy="844.2" r="5.15" fill="#ccc4c3" stroke="#333333" stroke-width="1.30"/>
<circle cx="1324.0" cy="838.0" r="5.15" fill="#ccc4c3" stroke="#333333" stroke-width="1.30"/>
<circle cx="1364.9" cy="905.8" r="5.15" fill="#ccc4c3" stroke="#333333" stroke-width="1.30"/>
<circle cx="1353.0" cy="918.1" r="5.15" fill="#ccc4c3" stroke="#333333" stroke-width="1.30"/>
<circle cx="1376.8" cy="918.1" r="5.15" fill="#ccc4c3" stroke="#333333" stroke-width="1.30"/>
<circle cx="1405.4" cy="912.4" r="5.15" fill="#ccc4c3" stroke="#333333" stroke-width="1.30"/>
<circle cx="1428.7" cy="913.3" r="5.15" fill="#ccc4c3" stroke="#333333" stroke-width="1.30"/>
<circle cx="1416.9" cy="954.2" r="5.15" fill="#ccc4c3" stroke="#333333" stroke-width="1.30"/>
<line x1="1001.7" y1="998.9" x2="1450.8" y2="998.9" stroke="#333333" stroke-width="2.20"/>
<text x="1077.5" y="1050.7" font-size="29.0" fill="#333333" text-anchor="middle" textLength="69.1" lengthAdjust="spacingAndGlyphs" stroke="#333333" stroke-width="0.3">Heart</text>
<text x="1181.8" y="1050.7" font-size="29.0" fill="#333333" text-anchor="middle" textLength="61.3" lengthAdjust="spacingAndGlyphs" stroke="#333333" stroke-width="0.3">Liver</text>
<text x="1286.2" y="1050.7" font-size="29.0" fill="#333333" text-anchor="middle" textLength="86.5" lengthAdjust="spacingAndGlyphs" stroke="#333333" stroke-width="0.3">Kidney</text>
<text x="1390.6" y="1050.7" font-size="29.0" fill="#333333" text-anchor="middle" textLength="66.0" lengthAdjust="spacingAndGlyphs" stroke="#333333" stroke-width="0.3">Brain</text>
<text x="1123.6" y="625.0" font-size="30.0" fill="#231f20" textLength="280.4" lengthAdjust="spacingAndGlyphs">Total Terminal S atoms</text>
<text transform="translate(895.0 936.4) rotate(-90)" x="0" y="0" font-size="31.5" fill="#333333" stroke="#333333" stroke-width="0.3" textLength="240.3" lengthAdjust="spacingAndGlyphs">CAM-S-CAM-TPP</text>
<text transform="translate(931.8 951.6) rotate(-90)" x="0" y="0" font-size="31.5" fill="#333333" stroke="#333333" stroke-width="0.3" textLength="273.6" lengthAdjust="spacingAndGlyphs">(pmol / mg of tissue)</text>
<line x1="188.9" y1="1151.3" x2="188.9" y2="1518.9" stroke="#333333" stroke-width="2.20"/>
<line x1="180.9" y1="1481.2" x2="188.9" y2="1481.2" stroke="#333333" stroke-width="2.20"/>
<line x1="180.9" y1="1444.6" x2="188.9" y2="1444.6" stroke="#333333" stroke-width="2.20"/>
<line x1="180.9" y1="1407.9" x2="188.9" y2="1407.9" stroke="#333333" stroke-width="2.20"/>
<line x1="180.9" y1="1371.3" x2="188.9" y2="1371.3" stroke="#333333" stroke-width="2.20"/>
<line x1="174.9" y1="1334.6" x2="188.9" y2="1334.6" stroke="#333333" stroke-width="2.20"/>
<line x1="180.9" y1="1297.9" x2="188.9" y2="1297.9" stroke="#333333" stroke-width="2.20"/>
<line x1="180.9" y1="1261.3" x2="188.9" y2="1261.3" stroke="#333333" stroke-width="2.20"/>
<line x1="180.9" y1="1224.6" x2="188.9" y2="1224.6" stroke="#333333" stroke-width="2.20"/>
<line x1="180.9" y1="1188.0" x2="188.9" y2="1188.0" stroke="#333333" stroke-width="2.20"/>
<line x1="174.9" y1="1151.3" x2="188.9" y2="1151.3" stroke="#333333" stroke-width="2.20"/>
<text x="169.5" y="1528.2" font-size="29.0" fill="#333333" text-anchor="end" stroke="#333333" stroke-width="0.3">0</text>
<text x="169.5" y="1344.9" font-size="29.0" fill="#333333" text-anchor="end" stroke="#333333" stroke-width="0.3">5</text>
<text x="169.5" y="1161.6" font-size="29.0" fill="#333333" text-anchor="end" stroke="#333333" stroke-width="0.3">10</text>
<rect x="207.0" y="1479.5" width="32.2" height="38.4" fill="#0a0a0a" stroke="#333333" stroke-width="2.0"/>
<rect x="258.7" y="1501.5" width="32.2" height="16.4" fill="#e8e2e2" stroke="#333333" stroke-width="2.0"/>
<rect x="310.5" y="1467.1" width="32.2" height="50.8" fill="#0a0a0a" stroke="#333333" stroke-width="2.0"/>
<rect x="362.2" y="1469.8" width="32.2" height="48.1" fill="#e8e2e2" stroke="#333333" stroke-width="2.0"/>
<rect x="414.0" y="1345.6" width="32.2" height="172.3" fill="#0a0a0a" stroke="#333333" stroke-width="2.0"/>
<rect x="465.7" y="1443.4" width="32.2" height="74.5" fill="#e8e2e2" stroke="#333333" stroke-width="2.0"/>
<rect x="517.4" y="1480.3" width="32.2" height="37.6" fill="#0a0a0a" stroke="#333333" stroke-width="2.0"/>
<rect x="569.2" y="1502.8" width="32.2" height="15.1" fill="#e8e2e2" stroke="#333333" stroke-width="2.0"/>
<line x1="223.1" y1="1473.5" x2="223.1" y2="1481.0" stroke="#333333" stroke-width="1.30"/>
<line x1="214.1" y1="1473.5" x2="232.1" y2="1473.5" stroke="#333333" stroke-width="1.30"/>
<line x1="214.1" y1="1481.0" x2="232.1" y2="1481.0" stroke="#333333" stroke-width="1.30"/>
<line x1="274.8" y1="1494.0" x2="274.8" y2="1504.0" stroke="#333333" stroke-width="1.30"/>
<line x1="265.8" y1="1494.0" x2="283.8" y2="1494.0" stroke="#333333" stroke-width="1.30"/>
<line x1="265.8" y1="1504.0" x2="283.8" y2="1504.0" stroke="#333333" stroke-width="1.30"/>
<line x1="326.6" y1="1458.7" x2="326.6" y2="1472.7" stroke="#333333" stroke-width="1.30"/>
<line x1="317.6" y1="1458.7" x2="335.6" y2="1458.7" stroke="#333333" stroke-width="1.30"/>
<line x1="317.6" y1="1472.7" x2="335.6" y2="1472.7" stroke="#333333" stroke-width="1.30"/>
<line x1="378.3" y1="1427.4" x2="378.3" y2="1508.4" stroke="#333333" stroke-width="1.30"/>
<line x1="369.3" y1="1427.4" x2="387.3" y2="1427.4" stroke="#333333" stroke-width="1.30"/>
<line x1="369.3" y1="1508.4" x2="387.3" y2="1508.4" stroke="#333333" stroke-width="1.30"/>
<line x1="430.1" y1="1321.3" x2="430.1" y2="1367.1" stroke="#333333" stroke-width="1.30"/>
<line x1="421.1" y1="1321.3" x2="439.1" y2="1321.3" stroke="#333333" stroke-width="1.30"/>
<line x1="421.1" y1="1367.1" x2="439.1" y2="1367.1" stroke="#333333" stroke-width="1.30"/>
<line x1="481.8" y1="1419.5" x2="481.8" y2="1464.8" stroke="#333333" stroke-width="1.30"/>
<line x1="472.8" y1="1419.5" x2="490.8" y2="1419.5" stroke="#333333" stroke-width="1.30"/>
<line x1="472.8" y1="1464.8" x2="490.8" y2="1464.8" stroke="#333333" stroke-width="1.30"/>
<line x1="533.5" y1="1470.5" x2="533.5" y2="1484.6" stroke="#333333" stroke-width="1.30"/>
<line x1="524.5" y1="1470.5" x2="542.5" y2="1470.5" stroke="#333333" stroke-width="1.30"/>
<line x1="524.5" y1="1484.6" x2="542.5" y2="1484.6" stroke="#333333" stroke-width="1.30"/>
<line x1="585.3" y1="1499.5" x2="585.3" y2="1503.0" stroke="#333333" stroke-width="1.30"/>
<line x1="576.3" y1="1499.5" x2="594.3" y2="1499.5" stroke="#333333" stroke-width="1.30"/>
<line x1="576.3" y1="1503.0" x2="594.3" y2="1503.0" stroke="#333333" stroke-width="1.30"/>
<circle cx="211.8" cy="1482.0" r="5.15" fill="#ccc4c3" stroke="#333333" stroke-width="1.30"/>
<circle cx="223.2" cy="1473.2" r="5.15" fill="#ccc4c3" stroke="#333333" stroke-width="1.30"/>
<circle cx="234.7" cy="1477.6" r="5.15" fill="#ccc4c3" stroke="#333333" stroke-width="1.30"/>
<circle cx="263.3" cy="1501.8" r="5.15" fill="#ccc4c3" stroke="#333333" stroke-width="1.30"/>
<circle cx="274.7" cy="1493.0" r="5.15" fill="#ccc4c3" stroke="#333333" stroke-width="1.30"/>
<circle cx="286.2" cy="1500.5" r="5.15" fill="#ccc4c3" stroke="#333333" stroke-width="1.30"/>
<circle cx="315.3" cy="1460.9" r="5.15" fill="#ccc4c3" stroke="#333333" stroke-width="1.30"/>
<circle cx="326.3" cy="1474.0" r="5.15" fill="#ccc4c3" stroke="#333333" stroke-width="1.30"/>
<circle cx="337.7" cy="1461.3" r="5.15" fill="#ccc4c3" stroke="#333333" stroke-width="1.30"/>
<circle cx="377.8" cy="1420.3" r="5.15" fill="#ccc4c3" stroke="#333333" stroke-width="1.30"/>
<circle cx="366.3" cy="1492.6" r="5.15" fill="#ccc4c3" stroke="#333333" stroke-width="1.30"/>
<circle cx="389.7" cy="1489.9" r="5.15" fill="#ccc4c3" stroke="#333333" stroke-width="1.30"/>
<circle cx="430.6" cy="1317.3" r="5.15" fill="#ccc4c3" stroke="#333333" stroke-width="1.30"/>
<circle cx="419.2" cy="1357.8" r="5.15" fill="#ccc4c3" stroke="#333333" stroke-width="1.30"/>
<circle cx="442.1" cy="1356.1" r="5.15" fill="#ccc4c3" stroke="#333333" stroke-width="1.30"/>
<circle cx="470.7" cy="1424.8" r="5.15" fill="#ccc4c3" stroke="#333333" stroke-width="1.30"/>
<circle cx="494.0" cy="1432.2" r="5.15" fill="#ccc4c3" stroke="#333333" stroke-width="1.30"/>
<circle cx="482.6" cy="1466.6" r="5.15" fill="#ccc4c3" stroke="#333333" stroke-width="1.30"/>
<circle cx="522.6" cy="1469.2" r="5.15" fill="#ccc4c3" stroke="#333333" stroke-width="1.30"/>
<circle cx="522.6" cy="1482.4" r="5.15" fill="#ccc4c3" stroke="#333333" stroke-width="1.30"/>
<circle cx="546.0" cy="1479.8" r="5.15" fill="#ccc4c3" stroke="#333333" stroke-width="1.30"/>
<circle cx="573.7" cy="1501.4" r="5.15" fill="#ccc4c3" stroke="#333333" stroke-width="1.30"/>
<circle cx="585.1" cy="1499.6" r="5.15" fill="#ccc4c3" stroke="#333333" stroke-width="1.30"/>
<circle cx="596.6" cy="1501.4" r="5.15" fill="#ccc4c3" stroke="#333333" stroke-width="1.30"/>
<line x1="174.3" y1="1517.9" x2="620.0" y2="1517.9" stroke="#333333" stroke-width="2.20"/>
<text x="249.0" y="1568.4" font-size="29.0" fill="#333333" text-anchor="middle" textLength="69.1" lengthAdjust="spacingAndGlyphs" stroke="#333333" stroke-width="0.3">Heart</text>
<text x="352.4" y="1568.4" font-size="29.0" fill="#333333" text-anchor="middle" textLength="61.3" lengthAdjust="spacingAndGlyphs" stroke="#333333" stroke-width="0.3">Liver</text>
<text x="455.9" y="1568.4" font-size="29.0" fill="#333333" text-anchor="middle" textLength="86.5" lengthAdjust="spacingAndGlyphs" stroke="#333333" stroke-width="0.3">Kidney</text>
<text x="559.4" y="1568.4" font-size="29.0" fill="#333333" text-anchor="middle" textLength="66.0" lengthAdjust="spacingAndGlyphs" stroke="#333333" stroke-width="0.3">Brain</text>
<text x="281.0" y="1134.3" font-size="36.0" fill="#333333" stroke-width="0">L</text>
<text x="301.2" y="1144.5" font-size="27.0" fill="#333333" textLength="46.6" lengthAdjust="spacingAndGlyphs" stroke-width="0">MW</text>
<text x="358.8" y="1134.5" font-size="29.5" fill="#231f20" textLength="211.4" lengthAdjust="spacingAndGlyphs">Terminal S atoms</text>
<text transform="translate(70.8 1456.4) rotate(-90)" x="0" y="0" font-size="31.5" fill="#333333" stroke="#333333" stroke-width="0.3" textLength="240.3" lengthAdjust="spacingAndGlyphs">CAM-S-CAM-TPP</text>
<text transform="translate(107.5 1470.8) rotate(-90)" x="0" y="0" font-size="31.5" fill="#333333" stroke="#333333" stroke-width="0.3" textLength="272.8" lengthAdjust="spacingAndGlyphs">(pmol / mg of tissue)</text>
<line x1="1013.7" y1="1149.6" x2="1013.7" y2="1518.6" stroke="#333333" stroke-width="2.20"/>
<line x1="1005.7" y1="1480.8" x2="1013.7" y2="1480.8" stroke="#333333" stroke-width="2.20"/>
<line x1="1005.7" y1="1444.0" x2="1013.7" y2="1444.0" stroke="#333333" stroke-width="2.20"/>
<line x1="1005.7" y1="1407.2" x2="1013.7" y2="1407.2" stroke="#333333" stroke-width="2.20"/>
<line x1="1005.7" y1="1370.4" x2="1013.7" y2="1370.4" stroke="#333333" stroke-width="2.20"/>
<line x1="999.7" y1="1333.6" x2="1013.7" y2="1333.6" stroke="#333333" stroke-width="2.20"/>
<line x1="1005.7" y1="1296.8" x2="1013.7" y2="1296.8" stroke="#333333" stroke-width="2.20"/>
<line x1="1005.7" y1="1260.0" x2="1013.7" y2="1260.0" stroke="#333333" stroke-width="2.20"/>
<line x1="1005.7" y1="1223.2" x2="1013.7" y2="1223.2" stroke="#333333" stroke-width="2.20"/>
<line x1="1005.7" y1="1186.4" x2="1013.7" y2="1186.4" stroke="#333333" stroke-width="2.20"/>
<line x1="999.7" y1="1149.6" x2="1013.7" y2="1149.6" stroke="#333333" stroke-width="2.20"/>
<text x="994.5" y="1527.9" font-size="29.0" fill="#333333" text-anchor="end" stroke="#333333" stroke-width="0.3">0</text>
<text x="994.5" y="1343.9" font-size="29.0" fill="#333333" text-anchor="end" stroke="#333333" stroke-width="0.3">5</text>
<text x="994.5" y="1159.9" font-size="29.0" fill="#333333" text-anchor="end" stroke="#333333" stroke-width="0.3">10</text>
<rect x="1032.6" y="1447.3" width="32.0" height="70.3" fill="#0a0a0a" stroke="#333333" stroke-width="2.0"/>
<rect x="1085.0" y="1455.2" width="32.0" height="62.4" fill="#e8e2e2" stroke="#333333" stroke-width="2.0"/>
<rect x="1137.4" y="1305.5" width="32.0" height="212.1" fill="#0a0a0a" stroke="#333333" stroke-width="2.0"/>
<rect x="1189.8" y="1391.4" width="32.0" height="126.2" fill="#e8e2e2" stroke="#333333" stroke-width="2.0"/>
<rect x="1242.2" y="1374.7" width="32.0" height="142.9" fill="#0a0a0a" stroke="#333333" stroke-width="2.0"/>
<rect x="1294.6" y="1428.8" width="32.0" height="88.8" fill="#e8e2e2" stroke="#333333" stroke-width="2.0"/>
<rect x="1347.0" y="1475.5" width="32.0" height="42.1" fill="#0a0a0a" stroke="#333333" stroke-width="2.0"/>
<rect x="1399.4" y="1464.0" width="32.0" height="53.6" fill="#e8e2e2" stroke="#333333" stroke-width="2.0"/>
<line x1="1048.6" y1="1385.1" x2="1048.6" y2="1505.8" stroke="#333333" stroke-width="1.30"/>
<line x1="1039.6" y1="1385.1" x2="1057.6" y2="1385.1" stroke="#333333" stroke-width="1.30"/>
<line x1="1039.6" y1="1505.8" x2="1057.6" y2="1505.8" stroke="#333333" stroke-width="1.30"/>
<line x1="1101.0" y1="1416.8" x2="1101.0" y2="1489.5" stroke="#333333" stroke-width="1.30"/>
<line x1="1092.0" y1="1416.8" x2="1110.0" y2="1416.8" stroke="#333333" stroke-width="1.30"/>
<line x1="1092.0" y1="1489.5" x2="1110.0" y2="1489.5" stroke="#333333" stroke-width="1.30"/>
<line x1="1153.4" y1="1272.4" x2="1153.4" y2="1334.0" stroke="#333333" stroke-width="1.30"/>
<line x1="1144.4" y1="1272.4" x2="1162.4" y2="1272.4" stroke="#333333" stroke-width="1.30"/>
<line x1="1144.4" y1="1334.0" x2="1162.4" y2="1334.0" stroke="#333333" stroke-width="1.30"/>
<line x1="1205.8" y1="1345.5" x2="1205.8" y2="1433.6" stroke="#333333" stroke-width="1.30"/>
<line x1="1196.8" y1="1345.5" x2="1214.8" y2="1345.5" stroke="#333333" stroke-width="1.30"/>
<line x1="1196.8" y1="1433.6" x2="1214.8" y2="1433.6" stroke="#333333" stroke-width="1.30"/>
<line x1="1258.2" y1="1332.3" x2="1258.2" y2="1413.7" stroke="#333333" stroke-width="1.30"/>
<line x1="1249.2" y1="1332.3" x2="1267.2" y2="1332.3" stroke="#333333" stroke-width="1.30"/>
<line x1="1249.2" y1="1413.7" x2="1267.2" y2="1413.7" stroke="#333333" stroke-width="1.30"/>
<line x1="1310.6" y1="1389.1" x2="1310.6" y2="1465.3" stroke="#333333" stroke-width="1.30"/>
<line x1="1301.6" y1="1389.1" x2="1319.6" y2="1389.1" stroke="#333333" stroke-width="1.30"/>
<line x1="1301.6" y1="1465.3" x2="1319.6" y2="1465.3" stroke="#333333" stroke-width="1.30"/>
<line x1="1363.0" y1="1462.2" x2="1363.0" y2="1486.0" stroke="#333333" stroke-width="1.30"/>
<line x1="1354.0" y1="1462.2" x2="1372.0" y2="1462.2" stroke="#333333" stroke-width="1.30"/>
<line x1="1354.0" y1="1486.0" x2="1372.0" y2="1486.0" stroke="#333333" stroke-width="1.30"/>
<line x1="1415.4" y1="1437.1" x2="1415.4" y2="1487.7" stroke="#333333" stroke-width="1.30"/>
<line x1="1406.4" y1="1437.1" x2="1424.4" y2="1437.1" stroke="#333333" stroke-width="1.30"/>
<line x1="1406.4" y1="1487.7" x2="1424.4" y2="1487.7" stroke="#333333" stroke-width="1.30"/>
<circle cx="1048.8" cy="1375.9" r="5.15" fill="#ccc4c3" stroke="#333333" stroke-width="1.30"/>
<circle cx="1036.4" cy="1483.3" r="5.15" fill="#ccc4c3" stroke="#333333" stroke-width="1.30"/>
<circle cx="1060.7" cy="1477.6" r="5.15" fill="#ccc4c3" stroke="#333333" stroke-width="1.30"/>
<circle cx="1088.8" cy="1431.4" r="5.15" fill="#ccc4c3" stroke="#333333" stroke-width="1.30"/>
<circle cx="1113.0" cy="1431.4" r="5.15" fill="#ccc4c3" stroke="#333333" stroke-width="1.30"/>
<circle cx="1100.7" cy="1494.8" r="5.15" fill="#ccc4c3" stroke="#333333" stroke-width="1.30"/>
<circle cx="1153.1" cy="1272.4" r="5.15" fill="#ccc4c3" stroke="#333333" stroke-width="1.30"/>
<circle cx="1153.1" cy="1304.5" r="5.15" fill="#ccc4c3" stroke="#333333" stroke-width="1.30"/>
<circle cx="1153.1" cy="1334.0" r="5.15" fill="#ccc4c3" stroke="#333333" stroke-width="1.30"/>
<circle cx="1206.0" cy="1353.0" r="5.15" fill="#ccc4c3" stroke="#333333" stroke-width="1.30"/>
<circle cx="1206.0" cy="1378.1" r="5.15" fill="#ccc4c3" stroke="#333333" stroke-width="1.30"/>
<circle cx="1206.0" cy="1438.0" r="5.15" fill="#ccc4c3" stroke="#333333" stroke-width="1.30"/>
<circle cx="1258.8" cy="1325.7" r="5.15" fill="#ccc4c3" stroke="#333333" stroke-width="1.30"/>
<circle cx="1246.9" cy="1398.8" r="5.15" fill="#ccc4c3" stroke="#333333" stroke-width="1.30"/>
<circle cx="1270.7" cy="1393.9" r="5.15" fill="#ccc4c3" stroke="#333333" stroke-width="1.30"/>
<circle cx="1310.7" cy="1383.8" r="5.15" fill="#ccc4c3" stroke="#333333" stroke-width="1.30"/>
<circle cx="1310.7" cy="1442.4" r="5.15" fill="#ccc4c3" stroke="#333333" stroke-width="1.30"/>
<circle cx="1310.7" cy="1456.5" r="5.15" fill="#ccc4c3" stroke="#333333" stroke-width="1.30"/>
<circle cx="1351.3" cy="1461.7" r="5.15" fill="#ccc4c3" stroke="#333333" stroke-width="1.30"/>
<circle cx="1375.0" cy="1471.9" r="5.15" fill="#ccc4c3" stroke="#333333" stroke-width="1.30"/>
<circle cx="1363.1" cy="1486.0" r="5.15" fill="#ccc4c3" stroke="#333333" stroke-width="1.30"/>
<circle cx="1404.1" cy="1446.8" r="5.15" fill="#ccc4c3" stroke="#333333" stroke-width="1.30"/>
<circle cx="1427.9" cy="1448.1" r="5.15" fill="#ccc4c3" stroke="#333333" stroke-width="1.30"/>
<circle cx="1416.0" cy="1490.8" r="5.15" fill="#ccc4c3" stroke="#333333" stroke-width="1.30"/>
<line x1="999.0" y1="1517.6" x2="1450.8" y2="1517.6" stroke="#333333" stroke-width="2.20"/>
<text x="1074.8" y="1568.4" font-size="29.0" fill="#333333" text-anchor="middle" textLength="69.1" lengthAdjust="spacingAndGlyphs" stroke="#333333" stroke-width="0.3">Heart</text>
<text x="1179.6" y="1568.4" font-size="29.0" fill="#333333" text-anchor="middle" textLength="61.3" lengthAdjust="spacingAndGlyphs" stroke="#333333" stroke-width="0.3">Liver</text>
<text x="1284.4" y="1568.4" font-size="29.0" fill="#333333" text-anchor="middle" textLength="86.5" lengthAdjust="spacingAndGlyphs" stroke="#333333" stroke-width="0.3">Kidney</text>
<text x="1389.2" y="1568.4" font-size="29.0" fill="#333333" text-anchor="middle" textLength="66.0" lengthAdjust="spacingAndGlyphs" stroke="#333333" stroke-width="0.3">Brain</text>
<text x="1134.6" y="1134.8" font-size="29.5" fill="#231f20" textLength="307.4" lengthAdjust="spacingAndGlyphs">Protein Terminal S atoms</text>
<text transform="translate(895.0 1453.5) rotate(-90)" x="0" y="0" font-size="31.5" fill="#333333" stroke="#333333" stroke-width="0.3" textLength="240.9" lengthAdjust="spacingAndGlyphs">CAM-S-CAM-TPP</text>
<text transform="translate(931.8 1470.2) rotate(-90)" x="0" y="0" font-size="31.5" fill="#333333" stroke="#333333" stroke-width="0.3" textLength="271.5" lengthAdjust="spacingAndGlyphs">(pmol / mg of tissue)</text>
<line x1="1014.0" y1="1648.6" x2="1014.0" y2="2018.1" stroke="#333333" stroke-width="2.20"/>
<line x1="1006.0" y1="1998.7" x2="1014.0" y2="1998.7" stroke="#333333" stroke-width="2.20"/>
<line x1="1006.0" y1="1980.2" x2="1014.0" y2="1980.2" stroke="#333333" stroke-width="2.20"/>
<line x1="1006.0" y1="1961.8" x2="1014.0" y2="1961.8" stroke="#333333" stroke-width="2.20"/>
<line x1="1006.0" y1="1943.4" x2="1014.0" y2="1943.4" stroke="#333333" stroke-width="2.20"/>
<line x1="1000.0" y1="1925.0" x2="1014.0" y2="1925.0" stroke="#333333" stroke-width="2.20"/>
<line x1="1006.0" y1="1906.5" x2="1014.0" y2="1906.5" stroke="#333333" stroke-width="2.20"/>
<line x1="1006.0" y1="1888.1" x2="1014.0" y2="1888.1" stroke="#333333" stroke-width="2.20"/>
<line x1="1006.0" y1="1869.7" x2="1014.0" y2="1869.7" stroke="#333333" stroke-width="2.20"/>
<line x1="1006.0" y1="1851.3" x2="1014.0" y2="1851.3" stroke="#333333" stroke-width="2.20"/>
<line x1="1000.0" y1="1832.8" x2="1014.0" y2="1832.8" stroke="#333333" stroke-width="2.20"/>
<line x1="1006.0" y1="1814.4" x2="1014.0" y2="1814.4" stroke="#333333" stroke-width="2.20"/>
<line x1="1006.0" y1="1796.0" x2="1014.0" y2="1796.0" stroke="#333333" stroke-width="2.20"/>
<line x1="1006.0" y1="1777.6" x2="1014.0" y2="1777.6" stroke="#333333" stroke-width="2.20"/>
<line x1="1006.0" y1="1759.1" x2="1014.0" y2="1759.1" stroke="#333333" stroke-width="2.20"/>
<line x1="1000.0" y1="1740.7" x2="1014.0" y2="1740.7" stroke="#333333" stroke-width="2.20"/>
<line x1="1006.0" y1="1722.3" x2="1014.0" y2="1722.3" stroke="#333333" stroke-width="2.20"/>
<line x1="1006.0" y1="1703.9" x2="1014.0" y2="1703.9" stroke="#333333" stroke-width="2.20"/>
<line x1="1006.0" y1="1685.4" x2="1014.0" y2="1685.4" stroke="#333333" stroke-width="2.20"/>
<line x1="1006.0" y1="1667.0" x2="1014.0" y2="1667.0" stroke="#333333" stroke-width="2.20"/>
<line x1="1000.0" y1="1648.6" x2="1014.0" y2="1648.6" stroke="#333333" stroke-width="2.20"/>
<text x="994.5" y="2027.4" font-size="29.0" fill="#333333" text-anchor="end" stroke="#333333" stroke-width="0.3">0</text>
<text x="994.5" y="1935.3" font-size="29.0" fill="#333333" text-anchor="end" stroke="#333333" stroke-width="0.3">5</text>
<text x="994.5" y="1843.1" font-size="29.0" fill="#333333" text-anchor="end" stroke="#333333" stroke-width="0.3">10</text>
<text x="994.5" y="1751.0" font-size="29.0" fill="#333333" text-anchor="end" stroke="#333333" stroke-width="0.3">15</text>
<text x="994.5" y="1658.9" font-size="29.0" fill="#333333" text-anchor="end" stroke="#333333" stroke-width="0.3">20</text>
<rect x="1200.3" y="1783.4" width="71.0" height="233.7" fill="#e8e2e2" stroke="#333333" stroke-width="2.0"/>
<line x1="1235.9" y1="1692.1" x2="1235.9" y2="1870.9" stroke="#333333" stroke-width="1.30"/>
<line x1="1220.9" y1="1692.1" x2="1250.9" y2="1692.1" stroke="#333333" stroke-width="1.30"/>
<line x1="1220.9" y1="1870.9" x2="1250.9" y2="1870.9" stroke="#333333" stroke-width="1.30"/>
<circle cx="1235.9" cy="1694.8" r="5.15" fill="#ccc4c3" stroke="#333333" stroke-width="1.30"/>
<circle cx="1235.9" cy="1775.8" r="5.15" fill="#ccc4c3" stroke="#333333" stroke-width="1.30"/>
<circle cx="1235.9" cy="1874.0" r="5.15" fill="#ccc4c3" stroke="#333333" stroke-width="1.30"/>
<line x1="999.0" y1="2017.1" x2="1450.8" y2="2017.1" stroke="#333333" stroke-width="2.20"/>
<text x="1186.0" y="1646.4" font-size="33.0" fill="#333333" textLength="96.8" lengthAdjust="spacingAndGlyphs" stroke="#333333" stroke-width="0.3">GSSH</text>
<text transform="translate(895.0 1942.9) rotate(-90)" x="0" y="0" font-size="31.5" fill="#333333" stroke="#333333" stroke-width="0.3" textLength="219.0" lengthAdjust="spacingAndGlyphs">GS-S-CAM-TPP</text>
<text transform="translate(931.8 1970.2) rotate(-90)" x="0" y="0" font-size="31.5" fill="#333333" stroke="#333333" stroke-width="0.3" textLength="271.5" lengthAdjust="spacingAndGlyphs">(pmol / mg of tissue)</text>
<line x1="188.4" y1="1655.2" x2="188.4" y2="2031.5" stroke="#333333" stroke-width="2.20"/>
<line x1="174.5" y1="1945.1" x2="188.4" y2="1945.1" stroke="#333333" stroke-width="2.20"/>
<text x="170.0" y="1955.4" font-size="29.0" fill="#333333" text-anchor="end" stroke="#333333" stroke-width="0.3">1</text>
<line x1="174.5" y1="1872.6" x2="188.4" y2="1872.6" stroke="#333333" stroke-width="2.20"/>
<text x="170.0" y="1882.9" font-size="29.0" fill="#333333" text-anchor="end" stroke="#333333" stroke-width="0.3">2</text>
<line x1="174.5" y1="1800.2" x2="188.4" y2="1800.2" stroke="#333333" stroke-width="2.20"/>
<text x="170.0" y="1810.5" font-size="29.0" fill="#333333" text-anchor="end" stroke="#333333" stroke-width="0.3">3</text>
<line x1="174.5" y1="1727.7" x2="188.4" y2="1727.7" stroke="#333333" stroke-width="2.20"/>
<text x="170.0" y="1738.0" font-size="29.0" fill="#333333" text-anchor="end" stroke="#333333" stroke-width="0.3">4</text>
<line x1="174.5" y1="1655.2" x2="188.4" y2="1655.2" stroke="#333333" stroke-width="2.20"/>
<text x="170.0" y="1665.5" font-size="29.0" fill="#333333" text-anchor="end" stroke="#333333" stroke-width="0.3">5</text>
<line x1="83.8" y1="2017.6" x2="607.3" y2="2017.6" stroke="#333333" stroke-width="2.20"/>
<line x1="83.9" y1="2017.6" x2="83.9" y2="2031.6" stroke="#333333" stroke-width="2.20"/>
<line x1="104.8" y1="2017.6" x2="104.8" y2="2024.6" stroke="#333333" stroke-width="2.20"/>
<line x1="125.7" y1="2017.6" x2="125.7" y2="2024.6" stroke="#333333" stroke-width="2.20"/>
<line x1="146.6" y1="2017.6" x2="146.6" y2="2024.6" stroke="#333333" stroke-width="2.20"/>
<line x1="167.5" y1="2017.6" x2="167.5" y2="2024.6" stroke="#333333" stroke-width="2.20"/>
<line x1="188.4" y1="2017.6" x2="188.4" y2="2031.6" stroke="#333333" stroke-width="2.20"/>
<line x1="209.3" y1="2017.6" x2="209.3" y2="2024.6" stroke="#333333" stroke-width="2.20"/>
<line x1="230.2" y1="2017.6" x2="230.2" y2="2024.6" stroke="#333333" stroke-width="2.20"/>
<line x1="251.1" y1="2017.6" x2="251.1" y2="2024.6" stroke="#333333" stroke-width="2.20"/>
<line x1="272.0" y1="2017.6" x2="272.0" y2="2024.6" stroke="#333333" stroke-width="2.20"/>
<line x1="292.9" y1="2017.6" x2="292.9" y2="2031.6" stroke="#333333" stroke-width="2.20"/>
<line x1="313.8" y1="2017.6" x2="313.8" y2="2024.6" stroke="#333333" stroke-width="2.20"/>
<line x1="334.7" y1="2017.6" x2="334.7" y2="2024.6" stroke="#333333" stroke-width="2.20"/>
<line x1="355.6" y1="2017.6" x2="355.6" y2="2024.6" stroke="#333333" stroke-width="2.20"/>
<line x1="376.5" y1="2017.6" x2="376.5" y2="2024.6" stroke="#333333" stroke-width="2.20"/>
<line x1="397.4" y1="2017.6" x2="397.4" y2="2031.6" stroke="#333333" stroke-width="2.20"/>
<line x1="418.3" y1="2017.6" x2="418.3" y2="2024.6" stroke="#333333" stroke-width="2.20"/>
<line x1="439.2" y1="2017.6" x2="439.2" y2="2024.6" stroke="#333333" stroke-width="2.20"/>
<line x1="460.1" y1="2017.6" x2="460.1" y2="2024.6" stroke="#333333" stroke-width="2.20"/>
<line x1="481.0" y1="2017.6" x2="481.0" y2="2024.6" stroke="#333333" stroke-width="2.20"/>
<line x1="501.9" y1="2017.6" x2="501.9" y2="2031.6" stroke="#333333" stroke-width="2.20"/>
<line x1="522.8" y1="2017.6" x2="522.8" y2="2024.6" stroke="#333333" stroke-width="2.20"/>
<line x1="543.7" y1="2017.6" x2="543.7" y2="2024.6" stroke="#333333" stroke-width="2.20"/>
<line x1="564.6" y1="2017.6" x2="564.6" y2="2024.6" stroke="#333333" stroke-width="2.20"/>
<line x1="585.5" y1="2017.6" x2="585.5" y2="2024.6" stroke="#333333" stroke-width="2.20"/>
<line x1="606.4" y1="2017.6" x2="606.4" y2="2031.6" stroke="#333333" stroke-width="2.20"/>
<text x="83.9" y="2061.0" font-size="29.0" fill="#333333" text-anchor="middle" stroke="#333333" stroke-width="0.3">-5</text>
<text x="188.4" y="2061.0" font-size="29.0" fill="#333333" text-anchor="middle" stroke="#333333" stroke-width="0.3">0</text>
<text x="292.9" y="2061.0" font-size="29.0" fill="#333333" text-anchor="middle" stroke="#333333" stroke-width="0.3">5</text>
<text x="397.4" y="2061.0" font-size="29.0" fill="#333333" text-anchor="middle" stroke="#333333" stroke-width="0.3">10</text>
<text x="501.9" y="2061.0" font-size="29.0" fill="#333333" text-anchor="middle" stroke="#333333" stroke-width="0.3">15</text>
<text x="606.4" y="2061.0" font-size="29.0" fill="#333333" text-anchor="middle" stroke="#333333" stroke-width="0.3">20</text>
<line x1="177.5" y1="2017.6" x2="606.4" y2="1664.6" stroke="#333333" stroke-width="2.20"/>
<circle cx="179.0" cy="2017.6" r="4.55" fill="#ccc4c3" stroke="#333333" stroke-width="1.30"/>
<circle cx="188.4" cy="2003.8" r="4.55" fill="#ccc4c3" stroke="#333333" stroke-width="1.30"/>
<circle cx="230.2" cy="1978.8" r="4.55" fill="#ccc4c3" stroke="#333333" stroke-width="1.30"/>
<circle cx="251.1" cy="1962.0" r="4.55" fill="#ccc4c3" stroke="#333333" stroke-width="1.30"/>
<circle cx="292.9" cy="1924.1" r="4.55" fill="#ccc4c3" stroke="#333333" stroke-width="1.30"/>
<circle cx="397.4" cy="1824.1" r="4.55" fill="#ccc4c3" stroke="#333333" stroke-width="1.30"/>
<circle cx="606.4" cy="1669.7" r="4.55" fill="#ccc4c3" stroke="#333333" stroke-width="1.30"/>
<line x1="117.2" y1="1960.4" x2="162.0" y2="2003.0" stroke="#333333" stroke-width="1.60"/>
<polygon points="155.8,2007.9 167.8,1998.4 171,2011.7" fill="#333333"/>
<text x="18.3" y="1964.7" font-size="29.5" fill="#333333" textLength="93.8" lengthAdjust="spacingAndGlyphs" stroke="#333333" stroke-width="0.3">-0.5239</text>
<text x="232.0" y="1699.0" font-size="24.5" fill="#333333" textLength="232.5" lengthAdjust="spacingAndGlyphs" stroke="#333333" stroke-width="0.3">Y = 0.2373*X + 0.1243</text>
<text x="232.0" y="1748.4" font-size="24.5" fill="#333333" stroke="#333333" stroke-width="0.3">R</text>
<text x="256.0" y="1738.3" font-size="17.0" fill="#333333" stroke="#333333" stroke-width="0.3">2</text>
<text x="272.0" y="1748.4" font-size="24.5" fill="#333333" textLength="89.0" lengthAdjust="spacingAndGlyphs" stroke="#333333" stroke-width="0.3">= 0.9973</text>
<text x="297.9" y="1646.4" font-size="33.0" fill="#333333" textLength="93.0" lengthAdjust="spacingAndGlyphs" stroke="#333333" stroke-width="0.3">GSSH</text>
<text x="160.7" y="2103.0" font-size="28.0" fill="#333333" textLength="369.8" lengthAdjust="spacingAndGlyphs" stroke="#333333" stroke-width="0.3">[GS-S-CAM-TPP] added (µM)</text>
<text transform="translate(122.5 1867.4) rotate(-90)" x="0" y="0" font-size="29.0" fill="#333333" stroke="#333333" stroke-width="0.3" textLength="136.4" lengthAdjust="spacingAndGlyphs">Area Ratio</text>
</svg>
</body></html>
